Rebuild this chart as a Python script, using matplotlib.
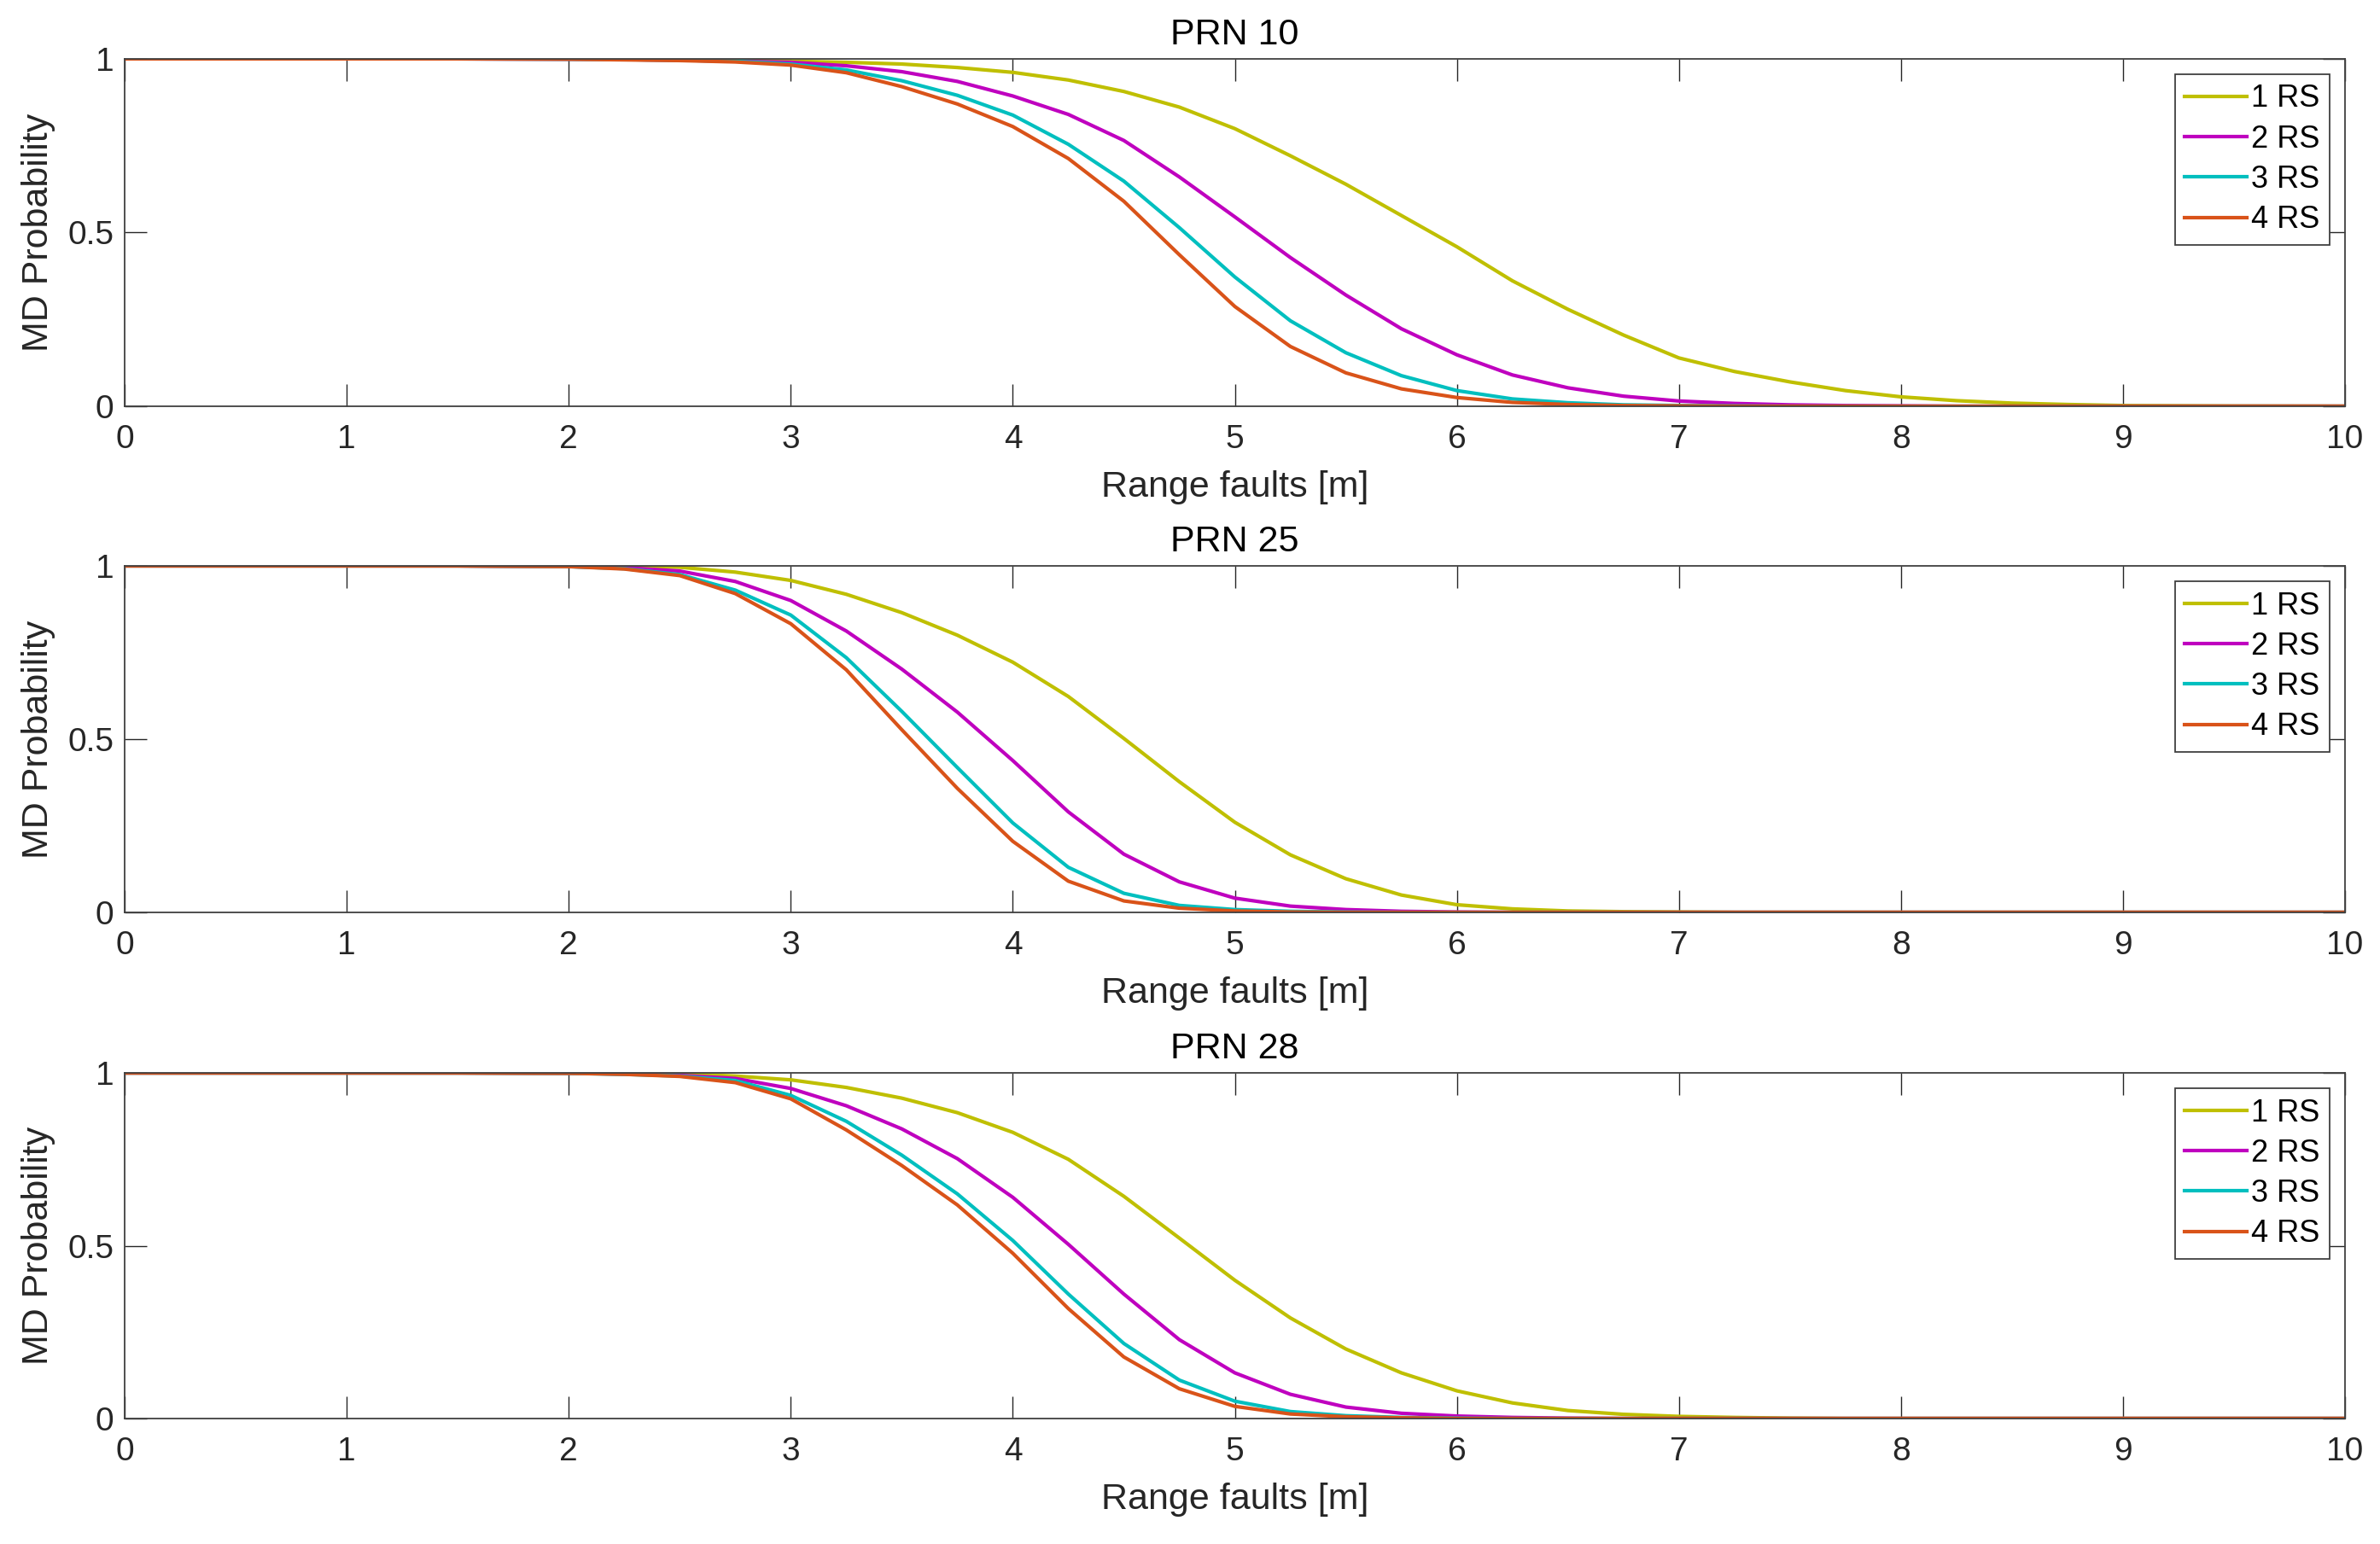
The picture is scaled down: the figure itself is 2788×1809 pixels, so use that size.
import matplotlib
matplotlib.use('Agg')
from matplotlib import pyplot as plt

plt.rcParams['font.family'] = ['Liberation Sans', 'DejaVu Sans']

# range fault values [m]
x = [0, 1, 1.5, 2, 2.25, 2.5, 2.75, 3, 3.25, 3.5, 3.75, 4, 4.25, 4.5, 4.75, 5,
     5.25, 5.5, 5.75, 6, 6.25, 6.5, 6.75, 7, 7.25, 7.5, 7.75, 8, 8.25, 8.5,
     8.75, 9, 9.5, 10]

labels = ['1 RS', '2 RS', '3 RS', '4 RS']
colors = ['#BFBF00', '#BF00BF', '#00BFBF', '#D95319']
titles = ['PRN 10', 'PRN 25', 'PRN 28']

# MD probability, PRN 10
prn10_1rs = [1, 1, 1, 1.0, 0.999, 0.998, 0.996, 0.993, 0.990, 0.985, 0.975, 0.961, 0.939, 0.906,
             0.861, 0.799, 0.721, 0.639, 0.549, 0.459, 0.361, 0.279, 0.205, 0.139, 0.100,
             0.070, 0.045, 0.027, 0.016, 0.009, 0.005, 0.002, 0.0005, 0]
prn10_2rs = [1, 1, 1, 0.999, 0.998, 0.996, 0.993, 0.990, 0.980, 0.963, 0.935, 0.893, 0.840,
             0.765, 0.660, 0.545, 0.428, 0.320, 0.223, 0.148, 0.090, 0.053, 0.029, 0.015,
             0.008, 0.004, 0.002, 0.001, 0, 0, 0, 0, 0, 0]
prn10_3rs = [1, 1, 1, 0.999, 0.998, 0.996, 0.993, 0.985, 0.968, 0.937, 0.895, 0.838, 0.754,
             0.648, 0.514, 0.372, 0.246, 0.154, 0.088, 0.045, 0.021, 0.010, 0.004, 0.002,
             0.001, 0, 0, 0, 0, 0, 0, 0, 0, 0]
prn10_4rs = [1, 1, 1, 0.999, 0.997, 0.995, 0.991, 0.982, 0.960, 0.920, 0.870, 0.805, 0.713,
             0.590, 0.436, 0.287, 0.172, 0.096, 0.050, 0.025, 0.011, 0.005, 0.002, 0.001,
             0, 0, 0, 0, 0, 0, 0, 0, 0, 0]

# PRN 25
prn25_1rs = [1, 1, 1, 0.999, 0.999, 0.996, 0.982, 0.958, 0.918, 0.865, 0.800, 0.722, 0.623,
             0.502, 0.377, 0.260, 0.166, 0.097, 0.050, 0.022, 0.010, 0.004, 0.002, 0.001,
             0, 0, 0, 0, 0, 0, 0, 0, 0, 0]
prn25_2rs = [1, 1, 1, 0.998, 0.995, 0.985, 0.955, 0.900, 0.812, 0.702, 0.578, 0.438, 0.290,
             0.168, 0.088, 0.041, 0.018, 0.008, 0.003, 0.001, 0, 0, 0, 0,
             0, 0, 0, 0, 0, 0, 0, 0, 0, 0]
prn25_3rs = [1, 1, 1, 0.998, 0.992, 0.975, 0.930, 0.858, 0.735, 0.580, 0.418, 0.258, 0.130,
             0.055, 0.020, 0.008, 0.003, 0.001, 0, 0, 0, 0, 0, 0,
             0, 0, 0, 0, 0, 0, 0, 0, 0, 0]
prn25_4rs = [1, 1, 1, 0.998, 0.991, 0.972, 0.920, 0.833, 0.700, 0.527, 0.358, 0.205, 0.090,
             0.033, 0.012, 0.004, 0.001, 0, 0, 0, 0, 0, 0, 0,
             0, 0, 0, 0, 0, 0, 0, 0, 0, 0]

# PRN 28
prn28_1rs = [1, 1, 1, 0.999, 0.999, 0.997, 0.991, 0.980, 0.958, 0.927, 0.885, 0.828, 0.750,
             0.643, 0.522, 0.400, 0.291, 0.201, 0.132, 0.080, 0.045, 0.023, 0.012, 0.006,
             0.003, 0.001, 0, 0, 0, 0, 0, 0, 0, 0]
prn28_2rs = [1, 1, 1, 0.999, 0.997, 0.993, 0.984, 0.955, 0.905, 0.838, 0.752, 0.640, 0.504,
             0.360, 0.228, 0.132, 0.070, 0.033, 0.015, 0.007, 0.003, 0.001, 0, 0,
             0, 0, 0, 0, 0, 0, 0, 0, 0, 0]
prn28_3rs = [1, 1, 1, 0.999, 0.996, 0.991, 0.978, 0.935, 0.860, 0.762, 0.650, 0.515, 0.360,
             0.217, 0.111, 0.050, 0.020, 0.008, 0.003, 0.001, 0, 0, 0, 0,
             0, 0, 0, 0, 0, 0, 0, 0, 0, 0]
prn28_4rs = [1, 1, 1, 0.999, 0.996, 0.990, 0.972, 0.925, 0.835, 0.732, 0.618, 0.478, 0.318,
             0.178, 0.086, 0.035, 0.013, 0.005, 0.002, 0, 0, 0, 0, 0,
             0, 0, 0, 0, 0, 0, 0, 0, 0, 0]

panels = [[prn10_1rs, prn10_2rs, prn10_3rs, prn10_4rs],
          [prn25_1rs, prn25_2rs, prn25_3rs, prn25_4rs],
          [prn28_1rs, prn28_2rs, prn28_3rs, prn28_4rs]]

fig = plt.figure(figsize=(27.88, 18.09), dpi=100)

# axes boxes in figure fractions (left, bottom, width, height)
boxes = [(0.0524, 0.7369, 0.9329, 0.2250),
         (0.0524, 0.4091, 0.9329, 0.2244),
         (0.0524, 0.0813, 0.9329, 0.2238)]

axcol = '#404040'
for box, title, series in zip(boxes, titles, panels):
    ax = fig.add_axes(box)
    for y, lab, c in zip(series, labels, colors):
        ax.plot(x, y, color=c, lw=3, label=lab, solid_joinstyle='round')
    ax.set_xlim(0, 10)
    ax.set_ylim(0, 1)
    ax.set_xticks(range(0, 11))
    ax.set_yticks([0, 0.5, 1])
    ax.set_yticklabels(['0', '0.5', '1'])
    ax.tick_params(direction='in', length=19, width=1, colors='#262626',
                   labelsize=28, top=True, right=True)
    ax.tick_params(axis='x', pad=15)
    ax.tick_params(axis='y', pad=9)
    for s in ax.spines.values():
        s.set_color(axcol)
        s.set_linewidth(1.3)
    ax.set_title(title, fontsize=31, pad=12, color='black')
    ax.set_xlabel('Range faults [m]', fontsize=31, color='#262626')
    ax.set_ylabel('MD Probability', fontsize=31, color='#262626')
    ax.xaxis.set_label_coords(0.5, -0.185)
    ax.yaxis.set_label_coords(-0.031, 0.5)
    leg = ax.legend(loc='upper right', bbox_to_anchor=(1 - 18 / 2601, 1 - 18 / 407),
                    borderaxespad=0, fontsize=26, fancybox=False, framealpha=1,
                    edgecolor='#404040', handlelength=2.0, handletextpad=0.15,
                    labelspacing=0.34, borderpad=0.32)
    leg.get_frame().set_linewidth(1.3)

plt.savefig('out.png', dpi=100)
